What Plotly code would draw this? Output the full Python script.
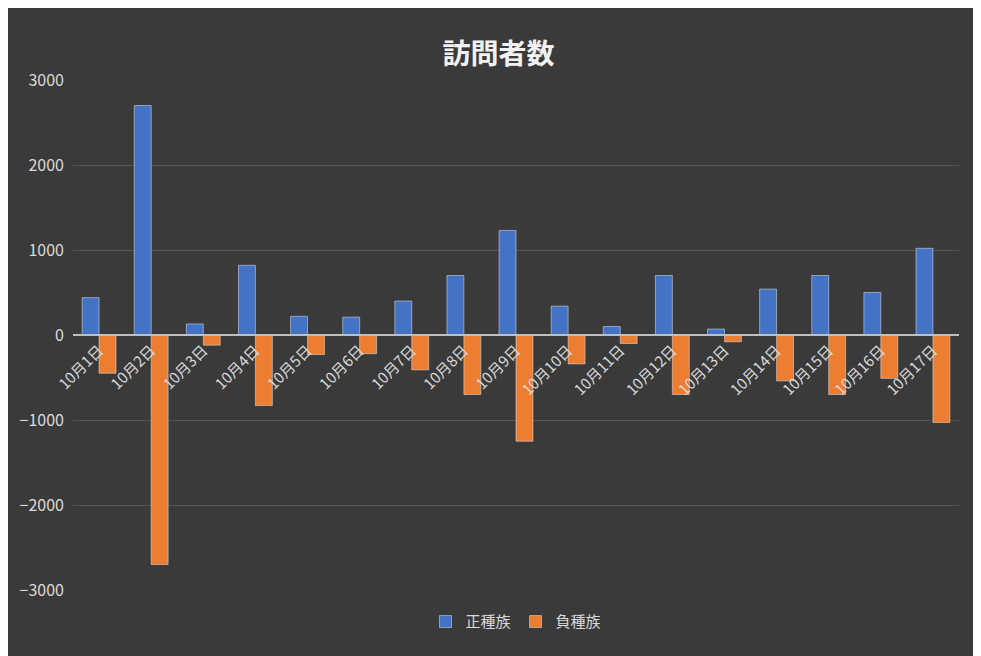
import plotly.graph_objects as go

dates = [f"10月{i}日" for i in range(1, 18)]
pos = [440, 2700, 130, 820, 220, 210, 400, 700, 1230, 340, 100, 700, 70, 540, 700, 500, 1020]
neg = [-450, -2700, -120, -830, -230, -220, -410, -700, -1250, -340, -100, -700, -80, -540, -700, -510, -1030]

fnt = "Noto Sans CJK JP"
fig = go.Figure()
fig.add_bar(x=dates, y=pos, name="正種族", marker_color="#4472c4")
fig.add_bar(x=dates, y=neg, name="負種族", marker_color="#ed7d31")
fig.update_layout(
    width=981, height=656, barmode="group", bargap=0.35, bargroupgap=0,
    paper_bgcolor="#3a3a3a", plot_bgcolor="rgba(0,0,0,0)",
    margin=dict(l=60, r=30, t=72, b=74),
    font=dict(family=fnt, color="#d9d9d9", size=14),
    title=dict(text="<b>訪問者数</b>", x=0.5, y=0.945, xanchor="center",
               font=dict(size=28, color="#f2f2f2", family=fnt)),
    legend=dict(orientation="h", x=0.5, xanchor="center", y=-0.03, yanchor="top",
                font=dict(size=15, color="#d9d9d9")),
    xaxis=dict(anchor="free", position=0.5, tickangle=-45, showgrid=False,
               showline=True, linecolor="#bfbfbf", linewidth=1.5, ticks="",
               tickfont=dict(size=15, color="#d9d9d9")),
    yaxis=dict(range=[-3000, 3000], dtick=1000, gridcolor="#555555", zeroline=False,
               tickfont=dict(size=16, color="#d9d9d9"), ticklabelstandoff=8),
)
fig.write_html("out.html")
